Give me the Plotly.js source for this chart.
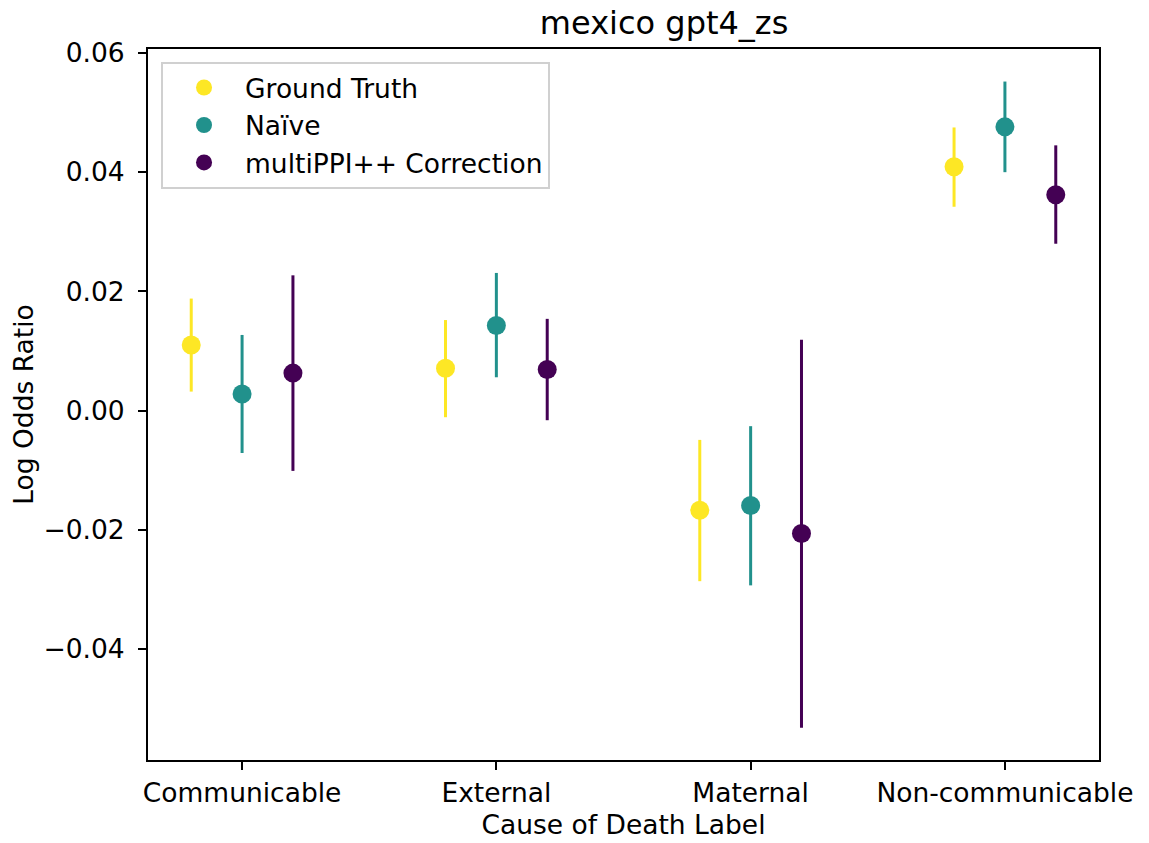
<!DOCTYPE html>
<html>
<head>
<meta charset="utf-8">
<script src="https://cdn.plot.ly/plotly-3.0.1.min.js"></script>
<style>html,body{margin:0;padding:0;background:#fff;}#chart{width:1149px;height:843px;}</style>
</head>
<body>
<div id="chart"></div>
<script>
const categories = ['Communicable', 'External', 'Maternal', 'Non-communicable'];
const seriesNames = ['Ground Truth', 'Naïve', 'multiPPI++ Correction'];

const gtEst   = [0.0110, 0.0071, -0.0167, 0.0409];
const gtLow   = [0.0032, -0.0011, -0.0286, 0.0342];
const gtHigh  = [0.0188, 0.0152, -0.0049, 0.0475];

const naiveEst  = [0.0028, 0.0143, -0.0159, 0.0476];
const naiveLow  = [-0.0071, 0.0056, -0.0293, 0.0400];
const naiveHigh = [0.0127, 0.0231, -0.0026, 0.0552];

const multiEst  = [0.0063, 0.0069, -0.0206, 0.0362];
const multiLow  = [-0.0101, -0.0016, -0.0532, 0.0280];
const multiHigh = [0.0227, 0.0154, 0.0119, 0.0445];

const colors = ['#fde725', '#21918c', '#440154'];
const dodge = [-0.2, 0, 0.2];
const FONT = 'DejaVu Sans, Verdana, sans-serif';
const FS = 26.5;

const est = [gtEst, naiveEst, multiEst];
const low = [gtLow, naiveLow, multiLow];
const high = [gtHigh, naiveHigh, multiHigh];

const traces = seriesNames.map((name, s) => ({
  type: 'scatter',
  mode: 'markers',
  name: name,
  x: categories.map((c, i) => i + dodge[s]),
  y: est[s],
  marker: {color: colors[s], size: 19, line: {width: 0}},
  error_y: {
    type: 'data', symmetric: false,
    array: est[s].map((v, i) => high[s][i] - v),
    arrayminus: est[s].map((v, i) => v - low[s][i]),
    color: colors[s], thickness: 3, width: 0
  },
  hoverinfo: 'x+y+name'
}));

const layout = {
  width: 1149, height: 843,
  paper_bgcolor: '#fff', plot_bgcolor: '#fff',
  margin: {l: 148, r: 50, t: 49, b: 83, pad: 0},
  font: {family: FONT, size: FS, color: '#000'},
  title: {text: 'mexico gpt4_zs', font: {family: FONT, size: 32, color: '#000'},
          x: 0.5427, xanchor: 'center', xref: 'paper', y: 0.973, yanchor: 'middle', yref: 'container'},
  showlegend: true,
  legend: {
    x: 0.0137, y: 0.982, xanchor: 'left', yanchor: 'top',
    bgcolor: 'rgba(255,255,255,0.8)', bordercolor: '#d0d0d0', borderwidth: 2,
    font: {family: FONT, size: FS, color: '#000'},
    itemwidth: 72
  },
  xaxis: {
    range: [-0.37, 3.37],
    tickmode: 'array', tickvals: categories.map((c, i) => i), ticktext: categories,
    showgrid: false, zeroline: false,
    showline: true, mirror: true, linecolor: '#000', linewidth: 2,
    ticks: 'outside', ticklen: 8, tickwidth: 2, tickcolor: '#000',
    tickfont: {family: FONT, size: FS, color: '#000'},
    title: {text: 'Cause of Death Label', font: {family: FONT, size: FS, color: '#000'}, standoff: 9}
  },
  yaxis: {
    range: [-0.05859, 0.06066],
    tickmode: 'array', tickvals: [-0.04, -0.02, 0, 0.02, 0.04, 0.06],
    ticktext: ['\u22120.04', '\u22120.02', '0.00', '0.02', '0.04', '0.06'],
    showgrid: false, zeroline: false,
    showline: true, mirror: true, linecolor: '#000', linewidth: 2,
    ticks: 'outside', ticklen: 8, tickwidth: 2, tickcolor: '#000',
    ticklabelstandoff: 8,
    tickfont: {family: FONT, size: FS, color: '#000'},
    title: {text: 'Log Odds Ratio', font: {family: FONT, size: FS, color: '#000'}, standoff: 2}
  }
};

Plotly.newPlot('chart', traces, layout, {displayModeBar: false, staticPlot: true});
</script>
</body>
</html>
